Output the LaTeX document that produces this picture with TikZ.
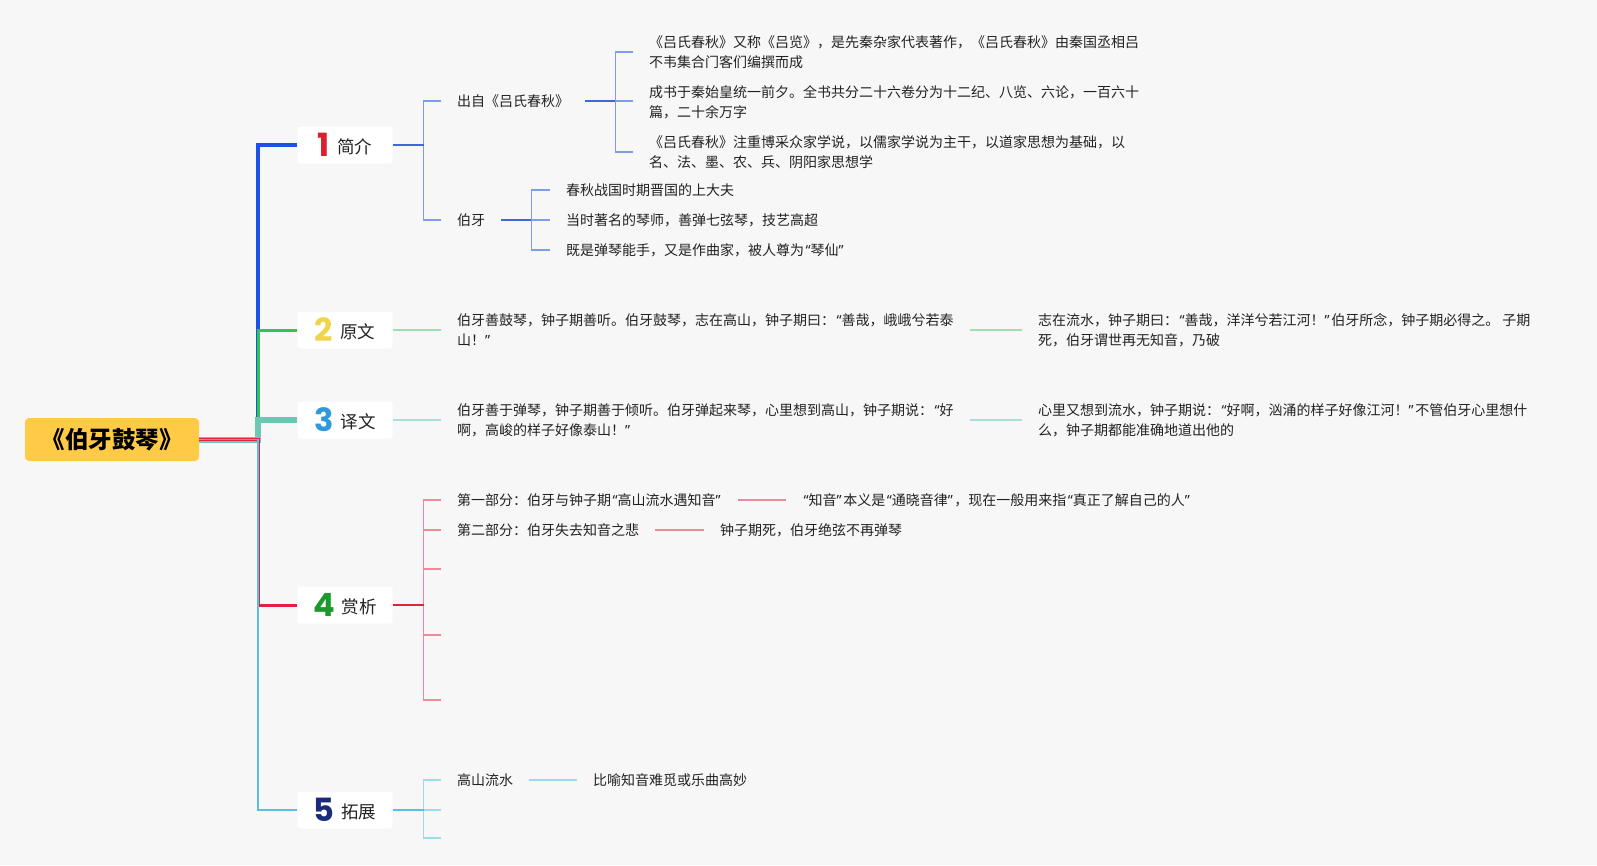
\documentclass[tikz,border=0pt]{standalone}
\usepackage{fontspec}
\setmainfont{Noto Sans CJK SC}
\newfontfamily\numfont{Poppins}
\newfontfamily\qfont{Noto Sans}
\newcommand{\oq}{\hspace{1.5pt}{\qfont “}}
\newcommand{\cq}{{\qfont ”}\hspace{1.5pt}}
\definecolor{bg}{HTML}{F7F7F7}
\definecolor{rootfill}{HTML}{FFCA46}
\definecolor{cA}{HTML}{1A52E6}
\definecolor{cAd}{HTML}{3F67D6}
\definecolor{cAl}{HTML}{7F9DE6}
\definecolor{cB}{HTML}{2FC454}
\definecolor{cBl}{HTML}{9FDDB2}
\definecolor{cC}{HTML}{6CC7B5}
\definecolor{cCl}{HTML}{A9DFD8}
\definecolor{cD}{HTML}{E5213F}
\definecolor{cDl}{HTML}{E98B9C}
\definecolor{cE}{HTML}{55C0E8}
\definecolor{cEl}{HTML}{9FD9EC}
\definecolor{num1}{HTML}{D9202E}
\definecolor{num2}{HTML}{F2D44A}
\definecolor{num3}{HTML}{2E9AD9}
\definecolor{num4}{HTML}{1A9A2A}
\definecolor{num5}{HTML}{1B2A7A}
\definecolor{txt}{HTML}{222222}
\newcommand{\lone}[3]{{\numfont\bfseries\fontsize{32}{32}\selectfont\color{#1}#2}\hspace{7pt}\raisebox{3pt}{\fontsize{17.5}{17.5}\selectfont #3}}
\begin{document}
\begin{tikzpicture}[x=1pt,y=-1pt,
  rootbox/.style={fill=rootfill, rounded corners=4pt, minimum width=174pt, minimum height=43pt, inner sep=0pt, font=\bfseries\fontsize{23.5}{23.5}\selectfont, text=black},
  lonebox/.style={fill=white, rounded corners=3pt, minimum width=95pt, minimum height=37pt, inner sep=0pt, text=txt},
  tx/.style={anchor=west, inner xsep=16pt, inner ysep=0pt, align=left, text=txt, font=\fontsize{14}{20}\selectfont},
  conn/.style={line width=1.5pt},
  sharp/.style={line join=miter, line cap=butt}
]
\fill[bg] (0,0) rectangle (1597,865);
\useasboundingbox (0,0) rectangle (1597,865);

% root and level-1 nodes
\node[rootbox] (root) at (112,439.5) {《伯牙鼓琴》};
\node[lonebox] (n1) at (345,145) {\lone{num1}{1}{简介}};
\node[lonebox] (n2) at (345,330) {\lone{num2}{2}{原文}};
\node[lonebox] (n3) at (345,420) {\lone{num3}{3}{译文}};
\node[lonebox] (n4) at (345,605) {\lone{num4}{4}{赏析}};
\node[lonebox] (n5) at (345,810) {\lone{num5}{5}{拓展}};
\coordinate (trunk) at (258,440);

% level-1 connectors
\draw[cA, line width=4pt, sharp] (root.east) -- (root.east -| trunk) |- (n1.west);
\draw[cB, line width=3pt, sharp] (root.east) -- (root.east -| trunk) |- (n2.west);
\draw[cC, line width=6pt, sharp] (root.east) -- (root.east -| trunk) |- (n3.west);
\draw[cD, line width=3pt, sharp] (root.east) -- (root.east -| trunk) |- (n4.west);
\draw[cE, line width=1.6pt, sharp] (root.east) -- (root.east -| trunk) |- (n5.west);

% branch 1
\node[tx] (s11) at (441,101) {出自《吕氏春秋》};
\node[tx] (s12) at (441,220) {伯牙};
\node[tx] (t11) at (633,52) {《吕氏春秋》又称《吕览》，是先秦杂家代表著作，《吕氏春秋》由秦国丞相吕\\不韦集合门客们编撰而成};
\node[tx] (t12) at (633,102) {成书于秦始皇统一前夕。全书共分二十六卷分为十二纪、八览、六论，一百六十\\篇，二十余万字};
\node[tx] (t13) at (633,152) {《吕氏春秋》注重博采众家学说，以儒家学说为主干，以道家思想为基础，以\\名、法、墨、农、兵、阴阳家思想学};
\node[tx] (t14) at (550,190) {春秋战国时期晋国的上大夫};
\node[tx] (t15) at (550,220) {当时著名的琴师，善弹七弦琴，技艺高超};
\node[tx] (t16) at (550,250) {既是弹琴能手，又是作曲家，被人尊为\oq 琴仙\cq};
\draw[cAl, conn, sharp] (n1.east) -- ++(31,0) |- (s11.west);
\draw[cAl, conn, sharp] (n1.east) -- ++(31,0) |- (s12.west);
\draw[cAd, conn, sharp] (n1.east) -- ++(31,0);
\draw[cAl, conn, sharp] (s11.east) -- ++(30,0) |- (t11.west);
\draw[cAl, conn, sharp] (s11.east) -- ++(30,0) |- (t13.west);
\draw[cAl, conn, sharp] (s11.east) -- ++(30,0) -- (t12.west |- s11.east);
\draw[cAd, line width=2pt, sharp] (s11.east) -- ++(30,0);
\draw[cAl, conn, sharp] (s12.east) -- ++(30,0) |- (t14.west);
\draw[cAl, conn, sharp] (s12.east) -- ++(30,0) |- (t16.west);
\draw[cAl, conn, sharp] (s12.east) -- (t15.west);
\draw[cAd, line width=2pt, sharp] (s12.east) -- ++(30,0);

% branch 2
\node[tx] (t21) at (441,330) {伯牙善鼓琴，钟子期善听。伯牙鼓琴，志在高山，钟子期曰：\oq 善哉，峨峨兮若泰\\山！\cq};
\node[tx] (t22) at (1022,330) {志在流水，钟子期曰：\oq 善哉，洋洋兮若江河！\cq 伯牙所念，钟子期必得之。 子期\\死，伯牙谓世再无知音，乃破};
\draw[cBl, conn] (n2.east) -- (t21.west);
\draw[cBl, conn] (t21.east) -- (t22.west);

% branch 3
\node[tx] (t31) at (441,420) {伯牙善于弹琴，钟子期善于倾听。伯牙弹起来琴，心里想到高山，钟子期说：\oq 好\\啊，高峻的样子好像泰山！\cq};
\node[tx] (t32) at (1022,420) {心里又想到流水，钟子期说：\oq 好啊，汹涌的样子好像江河！\cq 不管伯牙心里想什\\么，钟子期都能准确地道出他的};
\draw[cCl, conn] (n3.east) -- (t31.west);
\draw[cCl, conn] (t31.east) -- (t32.west);

% branch 4
\node[tx] (t41) at (441,500) {第一部分：伯牙与钟子期\oq 高山流水遇知音\cq};
\node[tx] (t41b) at (786,500) {\oq 知音\cq 本义是\oq 通晓音律\cq ，现在一般用来指\oq 真正了解自己的人\cq};
\node[tx] (t42) at (441,530) {第二部分：伯牙失去知音之悲};
\node[tx] (t42b) at (704,530) {钟子期死，伯牙绝弦不再弹琴};
\coordinate (e43) at (441,569);
\coordinate (e44) at (441,635);
\coordinate (e45) at (441,700);
\draw[cDl, conn, sharp] (n4.east) -- ++(31,0) |- (t41.west);
\draw[cDl, conn, sharp] (n4.east) -- ++(31,0) |- (t42.west);
\draw[cDl, conn, sharp] (n4.east) -- ++(31,0) |- (e43);
\draw[cDl, conn, sharp] (n4.east) -- ++(31,0) |- (e44);
\draw[cDl, conn, sharp] (n4.east) -- ++(31,0) |- (e45);
\draw[cD, line width=2pt, sharp] (n4.east) -- ++(31,0);
\draw[cDl, conn] (t41.east) -- (t41b.west);
\draw[cDl, conn] (t42.east) -- (t42b.west);

% branch 5
\node[tx] (t51) at (441,780) {高山流水};
\node[tx] (t51b) at (577,780) {比喻知音难觅或乐曲高妙};
\coordinate (e52) at (441,810);
\coordinate (e53) at (441,838);
\draw[cEl, conn, sharp] (n5.east) -- ++(31,0) |- (t51.west);
\draw[cEl, conn, sharp] (n5.east) -- ++(31,0) |- (e53);
\draw[cEl, conn, sharp] (n5.east) -- (e52);
\draw[cE, line width=1.6pt, sharp] (n5.east) -- ++(31,0);
\draw[cEl, conn] (t51.east) -- (t51b.west);
\end{tikzpicture}
\end{document}
